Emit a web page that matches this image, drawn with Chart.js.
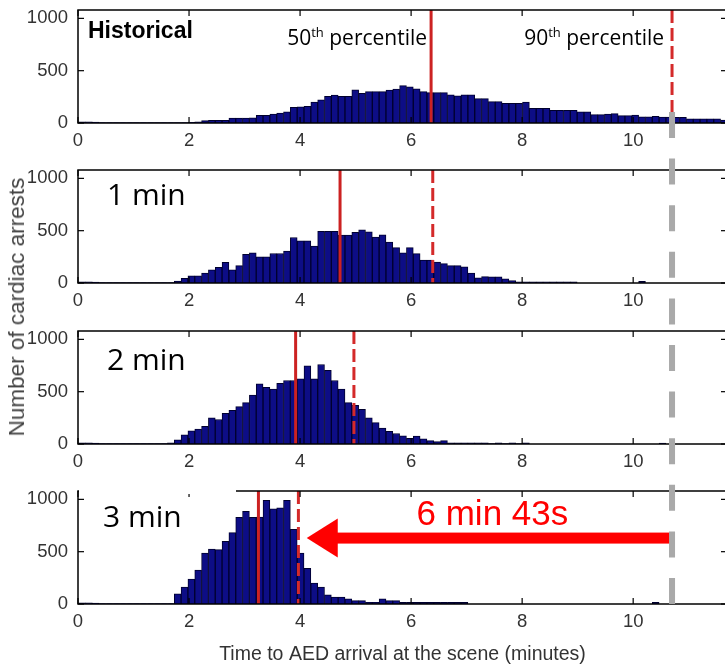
<!DOCTYPE html>
<html>
<head>
<meta charset="utf-8">
<script src="https://cdn.jsdelivr.net/npm/chart.js@4.4.1/dist/chart.umd.min.js"></script>
<style>
  html, body { margin: 0; padding: 0; background: #fff; overflow: hidden; }
  #wrap { position: relative; width: 725px; height: 668px; overflow: hidden; background: #fff; }
  #wrap canvas { position: absolute; left: 0; display: block; }
  #ytitle {
    position: absolute; left: 17px; top: 307px;
    transform: translate(-50%, -50%) rotate(-90deg);
    font: 22.5px "Liberation Sans", Arial, sans-serif; color: #444; white-space: nowrap;
  }
</style>
</head>
<body>
<div id="wrap">
  <canvas id="p0" width="728" height="160" style="top:0px"></canvas>
  <canvas id="p1" width="728" height="161" style="top:160px"></canvas>
  <canvas id="p2" width="728" height="160" style="top:321px"></canvas>
  <canvas id="p3" width="728" height="187" style="top:481px"></canvas>
  <div id="ytitle">Number of cardiac arrests</div>
</div>
<script>
// histogram bins (minutes)
const binStart = 0.012;
const binWidth = 0.123;
const xMax = 11.69;
const yMax = 1080;
const xTicks = [0, 2, 4, 6, 8, 10];
const yTicks = [0, 500, 1000];

const panelNames = ['Historical', '1 min', '2 min', '3 min'];

// counts per bin
const countsHistorical = [12, 10, 8, 5, 3, 3, 3, 3, 3, 3, 3, 3, 3, 3, 3, 3,
  6, 12, 22, 25, 25, 25, 47, 47, 47, 50, 73, 73, 85, 95, 107, 150, 155, 160, 200, 222,
  256, 267, 256, 256, 317, 283, 300, 300, 300, 315, 324, 357, 345, 327, 300, 290, 290, 290,
  270, 260, 270, 270, 233, 233, 205, 205, 189, 189, 189, 199, 141, 141, 141, 121, 121, 121,
  121, 107, 107, 80, 80, 85, 90, 70, 70, 75, 60, 60, 63, 56, 56, 53, 53, 40, 40, 40, 40, 40, 29];
const counts1min = [12, 10, 8, 5, 3, 3, 3, 3, 3, 3, 3, 3, 3, 3,
  19, 45, 68, 68, 94, 127, 149, 198, 127, 166, 273, 289, 250, 250, 282, 282, 305, 435, 402, 402,
  353, 493, 493, 493, 458, 458, 484, 509, 490, 440, 460, 392, 338, 289, 338, 280, 220, 220, 200,
  185, 166, 166, 155, 94, 50, 61, 58, 58, 40, 23,
  10, 10, 10, 10, 10, 10, 10, 10, 10, 0, 0, 0, 0, 0, 0, 0, 0, 0, 15,
  0, 0, 0, 0, 0, 0, 0, 0, 0, 0, 0, 0];
const counts2min = [12, 10, 8, 5, 3, 3, 3, 3, 3, 3, 3, 3, 3,
  10, 39, 88, 127, 143, 169, 250, 234, 292, 321, 357, 396, 467, 574, 542, 526, 581, 607, 607, 623,
  747, 623, 760, 704, 607, 526, 396, 370, 331, 250, 205, 152, 120, 100, 78, 55, 75, 50, 32, 22, 32,
  10, 10, 10, 10, 10, 10, 5, 10, 3, 10, 3, 10,
  0, 0, 0, 0, 0, 0, 0, 0, 0, 0, 0, 0, 0, 0, 0, 0, 0, 0, 0, 8,
  0, 0, 0, 0, 0, 0, 0, 0, 0];
const counts3min = [12, 10, 8, 5, 3, 3, 3, 3, 3, 3, 3, 3, 3,
  5, 97, 162, 237, 324, 487, 526, 519, 600, 682, 828, 886, 828, 830, 990, 909, 919, 990, 714, 487,
  341, 200, 162, 88, 65, 65, 50, 32, 32, 16, 16, 49, 32, 32,
  15, 15, 15, 15, 15, 15, 15, 15, 15, 15,
  0, 0, 0, 0, 0, 0, 0, 0, 0, 0, 0, 0, 0, 0, 0, 0, 0, 0, 0, 0, 0, 0, 0, 0, 0, 0, 0, 15,
  0, 0, 0, 0, 0, 0, 0, 0, 0, 0];

const medians = [6.36, 4.72, 3.92, 3.25];
const p90s = [10.70, 6.39, 4.97, 3.97];
const percentileNames = ['50', '90'];

// arrow: from historical 90th percentile back to the 3 min one
const arrowFrom = 10.70;
const arrowTo = 4.12;
const arrowLevel = 630;
const arrowText = '6 min 43s';
const greyFrom = 105;   // value on panel 1 where the grey line starts

// layout of the four canvases
const panelTops = [0, 160, 321, 481];
const panelHeights = [160, 161, 160, 187];
const plotTop = 10;
const plotHeight = 113;
const axisLeft = 78;

const allCounts = [countsHistorical, counts1min, counts2min, counts3min];
const tickFont = { family: '"Liberation Sans", Arial, sans-serif', size: 18.5 };
const labelStyle = [
  { font: 'bold 23px "Liberation Sans", Arial, sans-serif', x: 88, y: 38 },
  { font: '30px "Open Sans", sans-serif', x: 107, y: 45 },
  { font: '30px "Open Sans", sans-serif', x: 107, y: 49 },
  { font: '30px "Open Sans", sans-serif', x: 103, y: 46 }
];

function seg(ctx, x0, y0, x1, y1) {
  ctx.beginPath();
  ctx.moveTo(x0, y0);
  ctx.lineTo(x1, y1);
  ctx.stroke();
}

// "50th percentile" with a raised "th"
function percentileLabel(ctx, num, xRight, baseline) {
  const big = '21px "Open Sans", sans-serif';
  const small = '13px "Open Sans", sans-serif';
  ctx.font = big;
  const wNum = ctx.measureText(num).width;
  const wRest = ctx.measureText(' percentile').width;
  ctx.font = small;
  const wSup = ctx.measureText('th').width;
  const x0 = xRight - wNum - wSup - wRest;
  ctx.fillStyle = '#000';
  ctx.textAlign = 'left';
  ctx.textBaseline = 'alphabetic';
  ctx.font = big;
  ctx.fillText(num, x0, baseline);
  ctx.font = small;
  ctx.fillText('th', x0 + wNum, baseline - 8);
  ctx.font = big;
  ctx.fillText(' percentile', x0 + wNum + wSup, baseline);
}

const decor = {
  id: 'decor',
  afterDatasetsDraw(chart, args, o) {
    const { ctx, chartArea: a, scales: { x, y } } = chart;
    const i = o.index;
    ctx.save();
    const y0 = y.getPixelForValue(0);

    // median and 90th percentile
    ctx.lineWidth = 3;
    ctx.strokeStyle = '#cc2222';
    const xm = x.getPixelForValue(medians[i]);
    seg(ctx, xm, a.top, xm, y0);
    ctx.setLineDash([13, 5]);
    ctx.strokeStyle = '#d42a2a';
    const xp = x.getPixelForValue(p90s[i]);
    seg(ctx, xp, a.top, xp, y0);
    ctx.setLineDash([]);

    // box and inward ticks
    ctx.strokeStyle = '#000';
    ctx.lineWidth = 1.5;
    ctx.strokeRect(a.left, a.top, a.right - a.left, a.bottom - a.top);
    ctx.lineWidth = 1.2;
    xTicks.forEach(v => {
      const px = x.getPixelForValue(v);
      seg(ctx, px, a.bottom, px, a.bottom - 6);
      seg(ctx, px, a.top, px, a.top + 6);
    });
    yTicks.forEach(v => {
      const py = y.getPixelForValue(v);
      seg(ctx, a.left, py, a.left + 6, py);
      seg(ctx, a.right, py, a.right - 6, py);
    });

    // panel label
    const ls = labelStyle[i];
    if (i === 3) {
      ctx.fillStyle = '#fff';
      ctx.fillRect(a.left + 1, a.top - 2, 235 - a.left, 5);
    }
    ctx.fillStyle = '#000';
    ctx.font = ls.font;
    ctx.textAlign = 'left';
    ctx.textBaseline = 'alphabetic';
    ctx.fillText(panelNames[i], ls.x, ls.y);

    if (i === 0) {
      percentileLabel(ctx, percentileNames[0], xm - 4, 45);
      percentileLabel(ctx, percentileNames[1], xp - 8, 45);
    }
    ctx.restore();
  },
  afterDraw(chart, args, o) {
    const { ctx, scales: { x, y } } = chart;
    const i = o.index;
    ctx.save();
    if (i === 3) {
      const tail = x.getPixelForValue(arrowFrom);
      const tip = x.getPixelForValue(arrowTo);
      const ay = y.getPixelForValue(arrowLevel);
      const headLen = 31, headHalf = 19.5, shaft = 11;
      ctx.fillStyle = '#ff0000';
      ctx.fillRect(tip + headLen - 1, ay - shaft / 2, tail - tip - headLen + 1, shaft);
      ctx.beginPath();
      ctx.moveTo(tip, ay);
      ctx.lineTo(tip + headLen, ay - headHalf);
      ctx.lineTo(tip + headLen, ay + headHalf);
      ctx.closePath();
      ctx.fill();
      ctx.font = '35px "Liberation Sans", Arial, sans-serif';
      ctx.textAlign = 'center';
      ctx.textBaseline = 'alphabetic';
      ctx.fillText(arrowText, (tail + tip) / 2 + 3, ay - 13);
    }
    // grey dashed line running through all panels
    const top = panelTops[i];
    const gx = x.getPixelForValue(p90s[0]);
    const gy0 = panelTops[0] + y.getPixelForValue(greyFrom) - top;
    const gy1 = panelTops[3] + y.getPixelForValue(0) + 1 - top;
    ctx.strokeStyle = '#a9a9a9';
    ctx.lineWidth = 6;
    ctx.setLineDash([26, 20.6]);
    seg(ctx, gx, gy0, gx, gy1);
    ctx.restore();
  }
};

function noPad(s) {
  s.paddingTop = 0;
  s.paddingBottom = 0;
  s.paddingLeft = 0;
  s.paddingRight = 0;
}

allCounts.forEach((counts, i) => {
  const axisHeight = panelHeights[i] - plotTop - plotHeight;
  new Chart(document.getElementById('p' + i), {
    type: 'bar',
    data: {
      datasets: [{
        data: counts.map((c, k) => ({ x: binStart + binWidth * (k + 0.5), y: c })),
        backgroundColor: '#0d0d86',
        borderColor: '#00002e',
        borderWidth: 1,
        categoryPercentage: 1,
        barPercentage: 1
      }]
    },
    options: {
      responsive: false,
      animation: false,
      devicePixelRatio: 1,
      layout: { padding: { top: plotTop, right: 1, left: 0, bottom: 0 } },
      plugins: {
        legend: { display: false },
        tooltip: { enabled: false },
        decor: { index: i }
      },
      scales: {
        x: {
          type: 'linear',
          min: 0,
          max: xMax,
          offset: false,
          grid: { display: false, drawTicks: false },
          border: { display: false },
          ticks: { font: tickFont, color: '#333', padding: 7, maxRotation: 0, callback: v => String(v) },
          afterBuildTicks: s => { s.ticks = xTicks.map(v => ({ value: v })); },
          afterFit: s => { s.height = axisHeight; noPad(s); },
          title: {
            display: i === 3,
            text: 'Time to AED arrival at the scene (minutes)',
            color: '#333',
            font: { family: tickFont.family, size: 19.5 },
            padding: { top: 0, bottom: 2 }
          }
        },
        y: {
          min: 0,
          max: yMax,
          grid: { display: false, drawTicks: false },
          border: { display: false },
          ticks: { font: tickFont, color: '#333', padding: 10, callback: v => String(v) },
          afterBuildTicks: s => { s.ticks = yTicks.map(v => ({ value: v })); },
          afterFit: s => { s.width = axisLeft; noPad(s); }
        }
      }
    },
    plugins: [decor]
  });
});
</script>
</body>
</html>
